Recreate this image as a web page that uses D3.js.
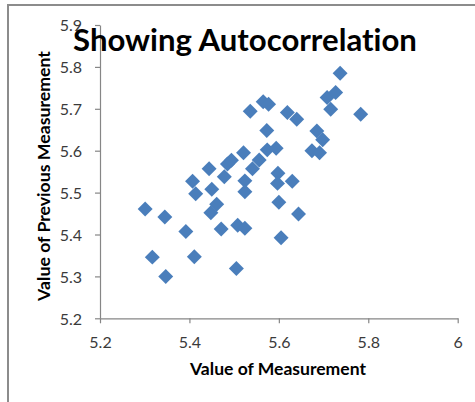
<!DOCTYPE html>
<html><head><meta charset="utf-8">
<script src="https://cdn.jsdelivr.net/npm/d3@7"></script>
<style>
html,body{margin:0;padding:0;background:#fff;}
svg{display:block;}
text{font-variant-ligatures:none;font-feature-settings:"liga" 0,"clig" 0;}
</style></head>
<body>
<svg id="chart" width="475" height="402"></svg>
<script>
const measurement = [5.301,5.345,5.392,5.317,5.411,5.347,5.471,5.505,5.508,5.524,5.448,5.461,5.450,5.414,5.407,5.444,5.478,5.485,5.494,5.521,5.524,5.524,5.541,5.556,5.574,5.594,5.573,5.536,5.565,5.577,5.619,5.640,5.598,5.597,5.630,5.600,5.644,5.605,5.674,5.691,5.685,5.698,5.708,5.727,5.737,5.716,5.783];
const previous    = [5.461,5.442,5.407,5.346,5.347,5.300,5.413,5.319,5.422,5.415,5.452,5.472,5.508,5.497,5.527,5.557,5.538,5.568,5.577,5.595,5.528,5.502,5.557,5.578,5.602,5.606,5.648,5.694,5.717,5.711,5.691,5.675,5.546,5.522,5.527,5.477,5.449,5.392,5.600,5.595,5.647,5.626,5.727,5.739,5.785,5.699,5.687];
const xTicks = [5.2,5.4,5.6,5.8,6];
const xTickLabels = ["5.2","5.4","5.6","5.8","6"];
const yTicks = [5.2,5.3,5.4,5.5,5.6,5.7,5.8,5.9];
const yTickLabels = ["5.2","5.3","5.4","5.5","5.6","5.7","5.8","5.9"];
const titleText = "Showing Autocorrelation";
const xTitle = "Value of Measurement";
const yTitle = "Value of Previous Measurement";

const svg = d3.select("#chart");
const FONT = "Lato, 'Open Sans', sans-serif";
const x = d3.scaleLinear().domain([5.2,6]).range([100,457.7]);
const y = d3.scaleLinear().domain([5.2,5.9]).range([318.3,25]);

// outer frame
svg.append("rect").attr("x",8).attr("y",5).attr("width",480).attr("height",420)
  .attr("fill","none").attr("stroke","#8c8c8c").attr("stroke-width",2);

function fit(sel, w){
  let fs = parseFloat(sel.attr("font-size"));
  const cur = sel.node().getComputedTextLength();
  sel.attr("font-size", fs*w/cur);
}

// axes
const axisColor = "#868686";
const yAxis = svg.append("g").attr("transform","translate(100,0)")
  .call(d3.axisLeft(y).tickValues(yTicks).tickFormat((d,i)=>yTickLabels[i]).tickSize(5).tickSizeOuter(0).tickPadding(13));
const xAxis = svg.append("g").attr("transform","translate(0,318.3)")
  .call(d3.axisBottom(x).tickValues(xTicks).tickFormat((d,i)=>xTickLabels[i]).tickSize(5).tickSizeOuter(0).tickPadding(13));
[yAxis,xAxis].forEach(a=>{
  a.select(".domain").attr("stroke",axisColor).attr("stroke-width",1.2);
  a.selectAll(".tick line").attr("stroke",axisColor).attr("stroke-width",1.2);
  a.selectAll(".tick text").attr("fill","#3a3a3a").attr("font-family",FONT).attr("font-size",16);
});
yAxis.selectAll(".tick text").attr("x",-18).attr("dy","0.36em");
xAxis.selectAll(".tick text").attr("y",18).attr("dy","0.71em");

// points
svg.append("g").selectAll("path").data(measurement).join("path")
  .attr("d", d3.symbol(d3.symbolSquare, 112)())
  .attr("transform",(d,i)=>`translate(${x(d)},${y(previous[i])}) rotate(45)`)
  .attr("fill","#4a7ebb");

// title
const t = svg.append("text").attr("x",245).attr("y",51).attr("text-anchor","middle")
  .attr("font-family",FONT).attr("font-weight","bold").attr("font-size",30).attr("fill","#000").text(titleText);
fit(t,344);

const xt = svg.append("text").attr("x",278).attr("y",375).attr("text-anchor","middle")
  .attr("font-family",FONT).attr("font-weight","bold").attr("font-size",16).attr("fill","#000").text(xTitle);
fit(xt,176);

const yt = svg.append("text").attr("transform","translate(50,176) rotate(-90)").attr("text-anchor","middle")
  .attr("font-family",FONT).attr("font-weight","bold").attr("font-size",16).attr("fill","#000").text(yTitle);
fit(yt,250);
</script>
</body></html>
